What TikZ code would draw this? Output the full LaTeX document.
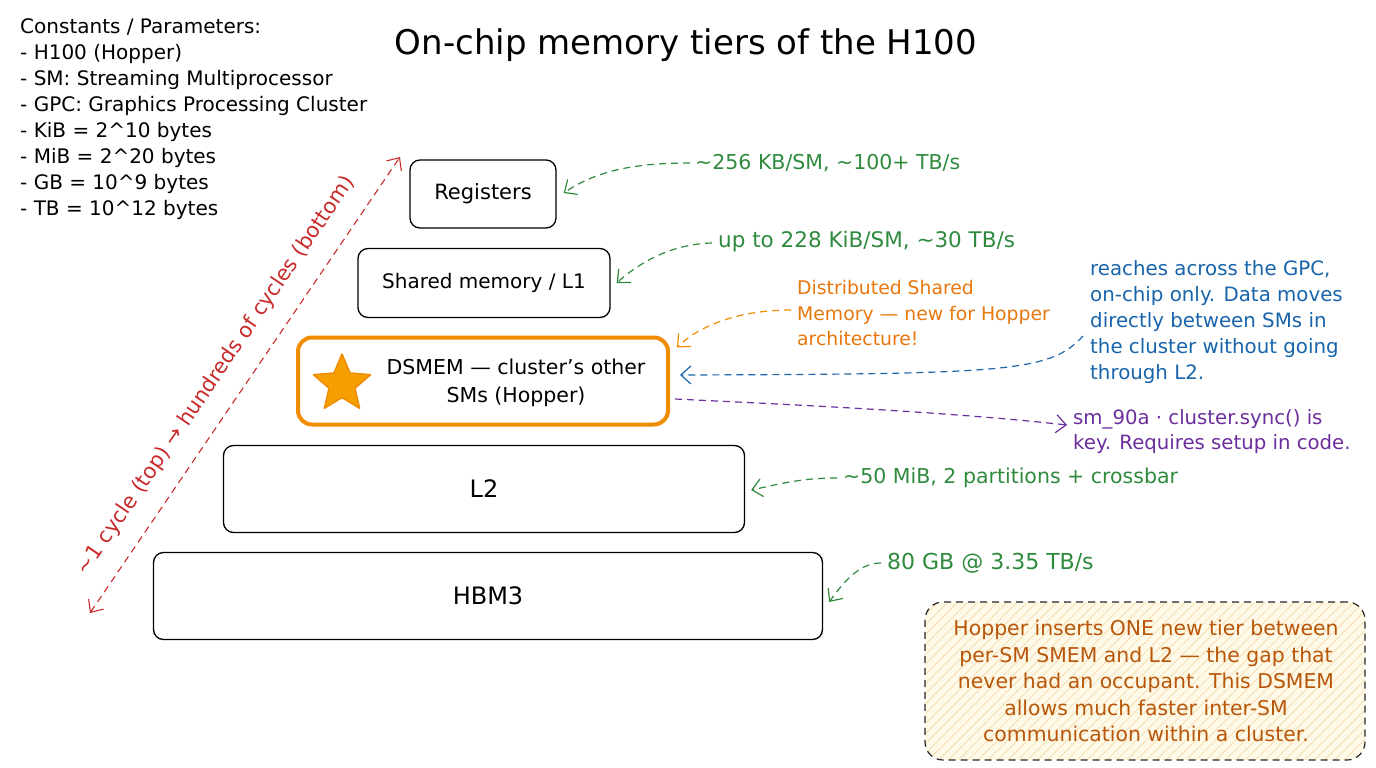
\documentclass[tikz,border=0pt]{standalone}
\usepackage{fontspec}
\setmainfont{DejaVu Sans}
\usetikzlibrary{arrows.meta,shapes.geometric,patterns.meta,calc}
\definecolor{cgreen}{HTML}{2F8A3E}
\definecolor{corange}{HTML}{F08C00}
\definecolor{cotext}{HTML}{E8770C}
\definecolor{cblue}{HTML}{1864AB}
\definecolor{cpurple}{HTML}{6C2E9C}
\definecolor{cred}{HTML}{C92A2A}
\definecolor{cbrown}{HTML}{B8560A}
\definecolor{cnotefill}{HTML}{FFF9E8}
\definecolor{chatch}{HTML}{F5D9A8}
\definecolor{cstar}{HTML}{F59F00}
\tikzset{
  tier/.style={draw=black, line width=1.3pt, rounded corners=10pt, fill=white, inner sep=0pt, font=\fontsize{20}{24}\selectfont},
  dsbox/.style={draw=corange, line width=4pt, rounded corners=14pt, fill=white, inner sep=0pt},
  lbl/.style={inner sep=0pt, anchor=west, align=left},
  conn/.style={dash pattern=on 7pt off 5pt, line width=1.2pt, -{Straight Barb[length=10pt,width=18pt]}},
}
\begin{document}
\begin{tikzpicture}[x=1pt,y=-1pt]
\useasboundingbox (0,0) rectangle (1376,768);
% title
\node[inner sep=0pt, font=\fontsize{34}{40}\selectfont] (title) at (686,45) {On-chip memory tiers of the H100};
% constants
\node[lbl, font=\fontsize{20}{26}\selectfont] (consts) at (20,119) {Constants / Parameters:\\- H100 (Hopper)\\- SM: Streaming Multiprocessor\\- GPC: Graphics Processing Cluster\\- KiB = 2\^{}10 bytes\\- MiB = 2\^{}20 bytes\\- GB = 10\^{}9 bytes\\- TB = 10\^{}12 bytes};
% tiers
\node[tier, minimum width=146pt, minimum height=68pt, font=\fontsize{21}{24}\selectfont] (reg) at (483,194) {Registers};
\node[tier, minimum width=252pt, minimum height=69pt] (shm) at (484,283) {Shared memory / L1};
\node[dsbox, minimum width=370pt, minimum height=87pt] (ds) at (483,381) {};
\node[star, star points=5, star point ratio=2.2, fill=cstar, draw=corange, line width=1.5pt, line join=round, minimum size=60pt, inner sep=0pt] (star) at (342,384) {};
\node[inner sep=0pt, align=center, font=\fontsize{20.5}{28}\selectfont] (dstext) at (516,383) {DSMEM — cluster's other\\SMs (Hopper)};
\node[tier, minimum width=521pt, minimum height=87pt, font=\fontsize{24}{28}\selectfont] (l2) at (484,489) {L2};
\node[tier, minimum width=669pt, minimum height=87pt, font=\fontsize{24}{28}\selectfont] (hbm) at (488,596) {HBM3};
% latency arrow
\coordinate (rb) at (90,613);
\coordinate (rt) at (400,157);
\draw[cred, dash pattern=on 7pt off 5pt, line width=1.1pt, {Straight Barb[length=10pt,width=18pt]}-{Straight Barb[length=10pt,width=18pt]}] (rb) -- (rt);
\node[inner sep=0pt, rotate=55.8, text=cred, font=\fontsize{21}{24}\selectfont] (lat) at (216,376) {\~{}1 cycle (top) → hundreds of cycles (bottom)};
% annotations
\node[lbl, text=cgreen, font=\fontsize{20.5}{24}\selectfont] (t1) at (695,163) {\~{}256 KB/SM, \~{}100+ TB/s};
\node[lbl, text=cgreen, font=\fontsize{21.5}{24}\selectfont] (t2) at (718,242) {up to 228 KiB/SM, \~{}30 TB/s};
\node[lbl, text=cotext, font=\fontsize{18.8}{25.5}\selectfont] (t3) at (797,313) {Distributed Shared\\Memory — new for Hopper\\architecture!};
\node[lbl, text=cblue, font=\fontsize{19.8}{25.8}\selectfont] (t4) at (1090,322) {reaches across the GPC,\\on-chip only. Data moves\\directly between SMs in\\the cluster without going\\through L2.};
\node[lbl, text=cpurple, font=\fontsize{19.7}{25}\selectfont] (t5) at (1073,432) {sm\_90a · cluster.sync() is\\key. Requires setup in code.};
\node[lbl, text=cgreen, font=\fontsize{20.5}{24}\selectfont] (t6) at (843,478) {\~{}50 MiB, 2 partitions + crossbar};
\node[lbl, text=cgreen, font=\fontsize{22}{24}\selectfont] (t7) at (887,563) {80 GB @ 3.35 TB/s};
\draw[conn, cgreen] ($(t1.west)+(-5,0)$) .. controls (630,163) and (595,172) .. ($(reg.east)+(7,-1)$);
\draw[conn, cgreen] ($(t2.west)+(-6,1)$) .. controls (672,244) and (640,262) .. ($(shm.east)+(6,0)$);
\draw[conn, corange] ($(t3.west)+(-6,-3)$) .. controls (740,310) and (700,325) .. ($(ds.north east)+(7,12)$);
\draw[conn, cblue] ($(t4.west)+(-7,14)$) .. controls (1050,372) and (1010,374) .. ($(ds.east)+(10,-6)$);
\draw[conn, cpurple] ($(ds.east)+(5,18)$) .. controls (800,405) and (950,412) .. ($(t5.west)+(-6,-7)$);
\draw[conn, cgreen] ($(t6.west)+(-6,0)$) .. controls (800,478) and (780,484) .. ($(l2.east)+(6,1)$);
\draw[conn, cgreen] ($(t7.west)+(-6,0)$) .. controls (860,563) and (845,580) .. ($(hbm.east)+(6,6)$);
% note
\node[draw=black!85, line width=1.2pt, dash pattern=on 7pt off 5pt, rounded corners=18pt, minimum width=440pt, minimum height=158pt, inner sep=0pt,
  preaction={fill=cnotefill}, pattern={Lines[angle=45,distance=7pt,line width=0.7pt]}, pattern color=chatch] (note) at (1145,681) {};
\node[inner sep=0pt, align=center, text=cbrown, font=\fontsize{20.4}{26.5}\selectfont] (notetext) at (1146,681) {Hopper inserts ONE new tier between\\per-SM SMEM and L2 — the gap that\\never had an occupant. This DSMEM\\allows much faster inter-SM\\communication within a cluster.};
\end{tikzpicture}
\end{document}
